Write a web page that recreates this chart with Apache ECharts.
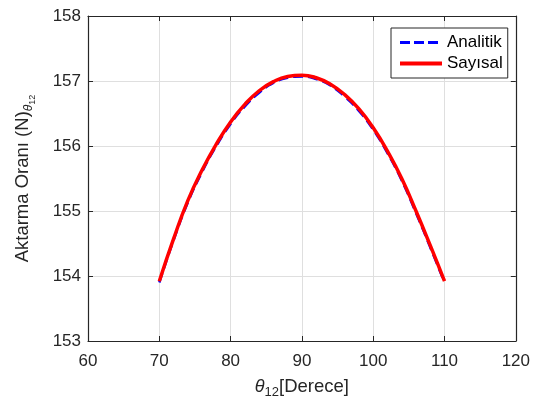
<!DOCTYPE html>
<html>
<head>
<meta charset="utf-8">
<script src="https://cdn.jsdelivr.net/npm/echarts@6/dist/echarts.min.js"></script>
<style>html,body{margin:0;padding:0;background:#fff}#c{width:533px;height:405px}</style>
</head>
<body>
<div id="c"></div>
<script>
const thetaDeg = [70,72,74,76,78,80,82,84,86,88,90,92,94,96,98,100,102,104,106,108,110];
const analitik = [153.90,154.55,155.13,155.60,156.00,156.34,156.61,156.82,156.97,157.05,157.07,157.03,156.93,156.76,156.54,156.25,155.89,155.47,154.97,154.44,153.90];
const sayisal  = [153.92,154.57,155.16,155.63,156.03,156.37,156.64,156.85,156.99,157.07,157.09,157.05,156.95,156.79,156.57,156.28,155.92,155.50,155.00,154.47,153.92];
const xTicks = [60,70,80,90,100,110,120];
const yTicks = [153,154,155,156,157,158];
const seriesNames = ['Analitik','Sayısal'];

const FONT = 'Liberation Sans, Arial, Helvetica, sans-serif';
const AX = '#262626';
const chart = echarts.init(document.getElementById('c'), null, {renderer:'canvas'});
const pairs = (xs, ys) => xs.map((x,i)=>[x, ys[i]]);
const baseX = {
  type:'value', min:xTicks[0], max:xTicks[xTicks.length-1], interval:10,
  axisLine:{show:true, onZero:false, lineStyle:{color:AX, width:1.2}},
  axisTick:{show:true, inside:true, length:5, lineStyle:{color:AX}},
};
const baseY = {
  type:'value', min:yTicks[0], max:yTicks[yTicks.length-1], interval:1,
  axisLine:{show:true, onZero:false, lineStyle:{color:AX, width:1.2}},
  axisTick:{show:true, inside:true, length:5, lineStyle:{color:AX}},
};
chart.setOption({
  animation:false,
  backgroundColor:'#fff',
  grid:{left:88, right:16, top:16, bottom:64, containLabel:false},
  xAxis:[
    Object.assign({}, baseX, {
      position:'bottom',
      axisLabel:{color:AX, fontSize:17, fontFamily:FONT, margin:12},
      splitLine:{show:true, lineStyle:{color:'#dfdfdf', width:1}},
      name:'{t|θ}{s|12}{n|[Derece]}',
      nameLocation:'middle', nameGap:33,
      nameTextStyle:{color:AX, fontFamily:FONT, fontSize:18.5,
        rich:{t:{fontSize:18, fontStyle:'italic', fontFamily:FONT, color:AX},
              s:{fontSize:13, fontFamily:FONT, color:AX, padding:[12,0,0,0]},
              n:{fontSize:18.5, fontFamily:FONT, color:AX}}}
    }),
    Object.assign({}, baseX, {position:'top', axisLabel:{show:false}, splitLine:{show:false}})
  ],
  yAxis:[
    Object.assign({}, baseY, {
      position:'left',
      axisLabel:{color:AX, fontSize:17, fontFamily:FONT, margin:7},
      splitLine:{show:true, lineStyle:{color:'#dfdfdf', width:1}},
      name:'{n|Aktarma Oranı (N)}{t|θ}{s|12}',
      nameLocation:'middle', nameGap:51, nameRotate:90,
      nameTextStyle:{color:AX, fontFamily:FONT, fontSize:18.5,
        rich:{t:{fontSize:12, fontStyle:'italic', fontFamily:FONT, color:AX, padding:[13,0,0,0]},
              s:{fontSize:9, fontFamily:FONT, color:AX, padding:[20,0,0,0]},
              n:{fontSize:18.5, fontFamily:FONT, color:AX}}}
    }),
    Object.assign({}, baseY, {position:'right', axisLabel:{show:false}, splitLine:{show:false}})
  ],
  legend:{
    orient:'vertical', left:391, top:28,
    padding:[6,5,6,7], itemGap:4, itemWidth:42, itemHeight:14,
    backgroundColor:'#fff', borderColor:AX, borderWidth:1, borderRadius:0,
    itemStyle:{opacity:0},
    textStyle:{color:'#000', fontSize:17, fontFamily:FONT, lineHeight:17},
    data:[
      {name:seriesNames[0], lineStyle:{width:3, type:[10,4], color:'#0000ff'}},
      {name:seriesNames[1], lineStyle:{width:4, color:'#ff0000'}}
    ]
  },
  series:[
    {name:seriesNames[0], type:'line', data:pairs(thetaDeg, analitik), smooth:true,
     symbol:'none', color:'#0000ff', lineStyle:{color:'#0000ff', width:2.5, type:[10,5]}, z:2},
    {name:seriesNames[1], type:'line', data:pairs(thetaDeg, sayisal), smooth:true,
     symbol:'none', color:'#ff0000', lineStyle:{color:'#ff0000', width:3.5}, z:3}
  ]
});
</script>
</body>
</html>
